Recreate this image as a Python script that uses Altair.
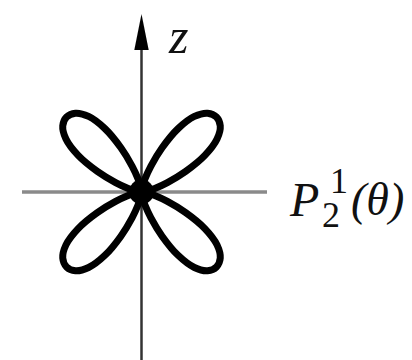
import altair as alt
import pandas as pd

# Four-lobed polar pattern of the associated Legendre function P_2^1(theta)
petal_axes = [45, 135, 225, 315]          # direction of each lobe (degrees)
psi = [-45, -40, -35, -30, -25, -20, -15, -10, -5, 0,
       5, 10, 15, 20, 25, 30, 35, 40, 45]  # angle from the lobe axis (degrees)
radius = [0.0, 0.02, 0.06, 0.13, 0.26, 0.46, 0.69, 0.87, 0.97, 1.0,
          0.97, 0.87, 0.69, 0.46, 0.26, 0.13, 0.06, 0.02, 0.0]

rows = []
for k, ax in enumerate(petal_axes):
    for i, (p, r) in enumerate(zip(psi, radius)):
        rows.append({"petal": k, "step": i, "angle": ax + p, "r": r})
lobes = pd.DataFrame(rows)

xs = alt.Scale(domain=[-1.335, 2.552], nice=False, zero=False)
ys = alt.Scale(domain=[-1.585, 1.811], nice=False, zero=False)

petals = (
    alt.Chart(lobes)
    .transform_calculate(
        px="datum.r * cos(datum.angle * PI / 180)",
        py="datum.r * sin(datum.angle * PI / 180)",
    )
    .mark_line(color="black", strokeWidth=7, interpolate="catmull-rom",
               strokeCap="round", strokeJoin="round")
    .encode(
        x=alt.X("px:Q", scale=xs, axis=None),
        y=alt.Y("py:Q", scale=ys, axis=None),
        detail="petal:N",
        order="step:Q",
    )
)

# dark knot where the four lobes meet at the origin
knot = alt.Chart().mark_point(
    shape="circle", filled=True, color="black", opacity=1, size=620
).encode(x=alt.XDatum(0, scale=xs, axis=None), y=alt.YDatum(0, scale=ys, axis=None))

h_axis = alt.Chart().mark_rule(color="#8a8a8a", strokeWidth=3.5).encode(
    x=alt.value(22), x2=alt.value(267), y=alt.YDatum(0, scale=ys, axis=None)
)
v_axis = alt.Chart().mark_rule(color="#333333", strokeWidth=2.5).encode(
    x=alt.XDatum(0, scale=xs, axis=None), y=alt.value(40), y2=alt.value(360)
)
arrow = alt.Chart().mark_point(
    shape="M0,-1L0.4,1L-0.4,1Z", filled=True, color="black", opacity=1, size=1296
).encode(x=alt.XDatum(0, scale=xs, axis=None), y=alt.value(32))


def label(txt, x, y, size, italic=True):
    return alt.Chart().mark_text(
        text=txt, align="left", baseline="alphabetic", font="Liberation Serif",
        fontStyle="italic" if italic else "normal", fontSize=size, color="#111111"
    ).encode(x=alt.value(x), y=alt.value(y))


texts = [
    label("z", 169, 53, 50),
    label("P", 290, 216, 48),
    label("1", 330, 193, 36, italic=False),
    label("2", 322, 227, 36, italic=False),
    label("(θ)", 351, 215, 46),
]

chart = alt.layer(h_axis, v_axis, arrow, petals, knot, *texts).properties(
    width=412, height=360, autosize="none", padding=0
).configure_view(stroke=None)

chart.save("out.html", embed_options={"renderer": "svg", "actions": False})
